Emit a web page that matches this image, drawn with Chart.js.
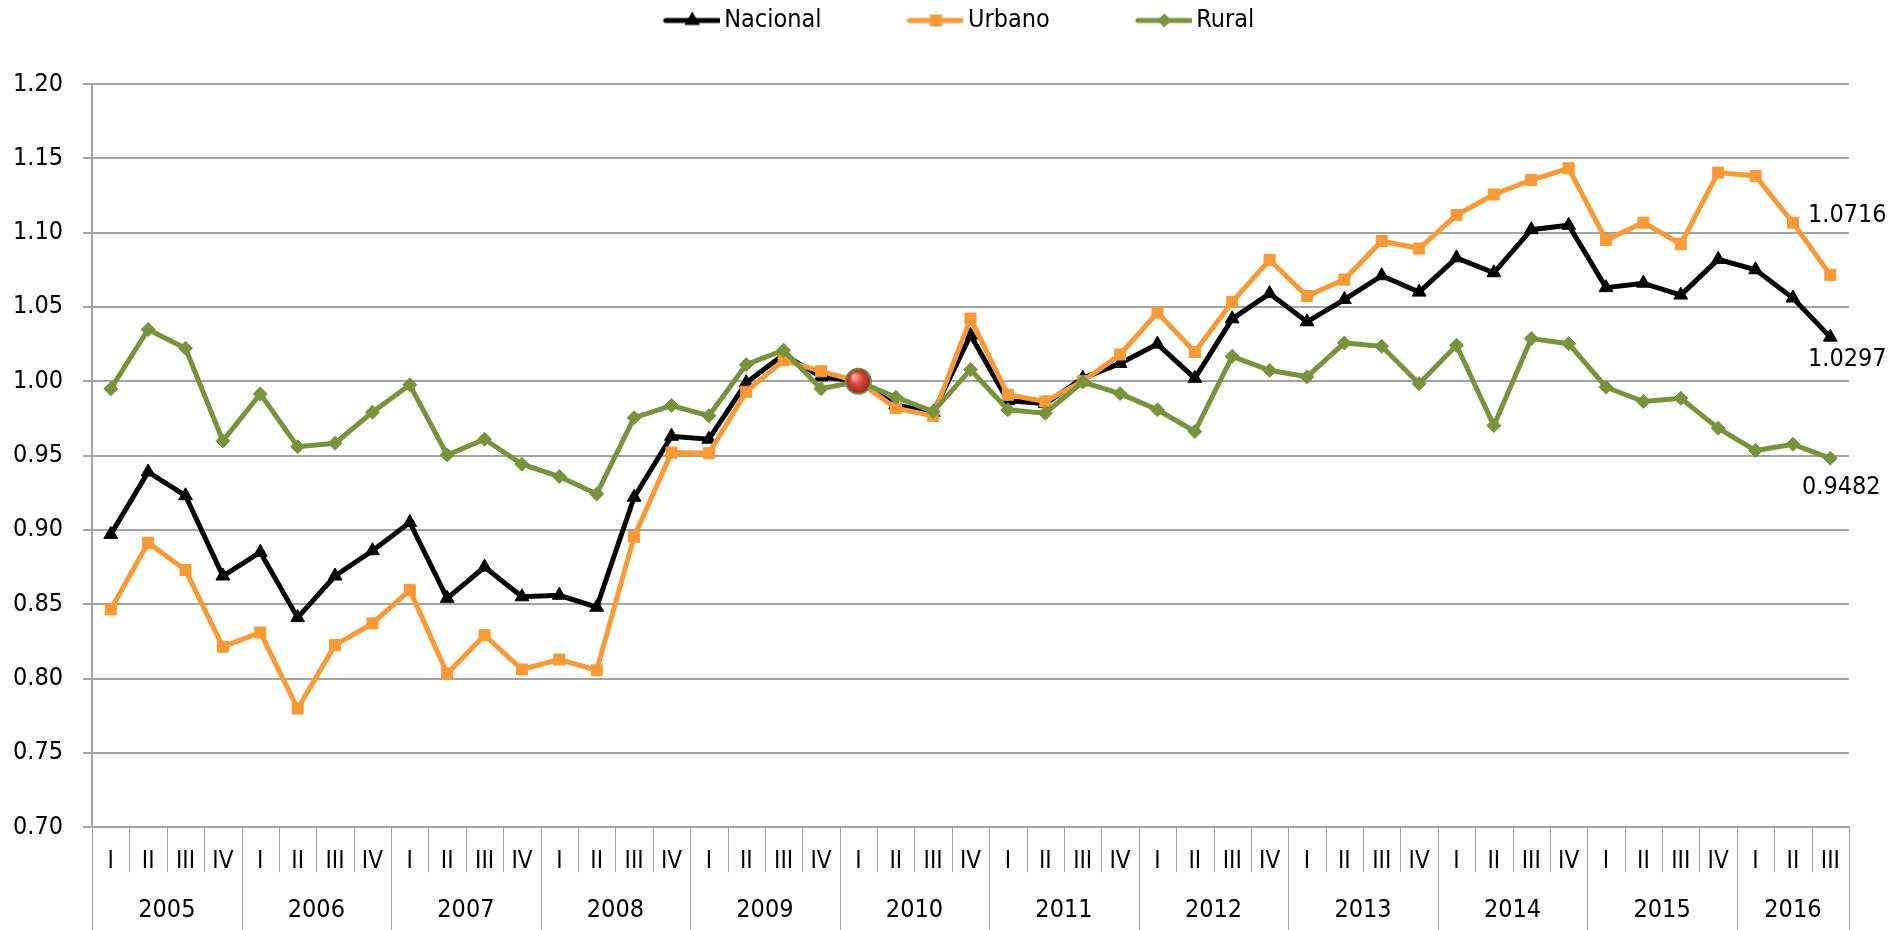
<!DOCTYPE html>
<html lang="es">
<head>
<meta charset="utf-8">
<title>Índice trimestral Nacional, Urbano y Rural</title>
<script src="https://cdn.jsdelivr.net/npm/chart.js@4.4.1/dist/chart.umd.min.js"></script>
<style>
  html, body { margin: 0; padding: 0; background: #fff; }
  #wrap { position: relative; width: 1895px; height: 930px; }
</style>
</head>
<body>
<div id="wrap"><canvas id="indexChart"></canvas></div>
<script>
const years = ["2005", "2006", "2007", "2008", "2009", "2010", "2011", "2012", "2013", "2014", "2015", "2016"];
const quartersPerYear = [4, 4, 4, 4, 4, 4, 4, 4, 4, 4, 4, 3];
const quarterNames = ["I", "II", "III", "IV"];

const nacional = [
  0.897, 0.939, 0.923, 0.869, 0.885, 0.841, 0.869, 0.886, 0.905, 0.854, 0.875, 0.855,
  0.856, 0.848, 0.922, 0.963, 0.961, 0.999, 1.018, 1.003, 1.000, 0.984, 0.979, 1.031,
  0.987, 0.985, 1.002, 1.012, 1.025, 1.002, 1.042, 1.059, 1.040, 1.055, 1.071, 1.060,
  1.083, 1.073, 1.102, 1.105, 1.063, 1.066, 1.058, 1.082, 1.075, 1.056, 1.0297
];
const urbano = [
  0.8465, 0.8914, 0.873, 0.8214, 0.831, 0.7798, 0.8225, 0.8371, 0.8595, 0.8034, 0.8292, 0.8061,
  0.8128, 0.8056, 0.8954, 0.952, 0.9516, 0.993, 1.0141, 1.0067, 1.000, 0.9819, 0.9767, 1.0422,
  0.9909, 0.9864, 1.000, 1.018, 1.0462, 1.0197, 1.0534, 1.0816, 1.0574, 1.0684, 1.0944, 1.0893,
  1.1118, 1.1257, 1.1354, 1.1433, 1.0951, 1.1067, 1.0924, 1.1404, 1.1381, 1.1067, 1.0716
];
const rural = [
  0.9949, 1.0349, 1.0222, 0.9599, 0.9915, 0.956, 0.9583, 0.9792, 0.9976, 0.9504, 0.961, 0.9442,
  0.9359, 0.9242, 0.9755, 0.9837, 0.9768, 1.0112, 1.0209, 0.995, 1.000, 0.9893, 0.9796, 1.0078,
  0.9808, 0.9785, 0.9995, 0.9917, 0.9808, 0.9662, 1.0168, 1.0074, 1.003, 1.0258, 1.0235, 0.9984,
  1.0242, 0.9702, 1.0287, 1.0253, 0.996, 0.9864, 0.9886, 0.9684, 0.9534, 0.9576, 0.9482
];

// base period of the index
const baseYear = "2010";
const baseQuarter = "I";
const baseValue = 1.00;

const yTicks = { min: 0.70, max: 1.20, step: 0.05 };

const FONT = '"DejaVu Sans Condensed", "Liberation Sans Narrow", sans-serif';
const GRID = "#a3a3a3";

// quarter labels + the year each quarter belongs to
const labels = [];
const labelYears = [];
years.forEach((yr, k) => {
  for (let q = 0; q < quartersPerYear[k]; q++) {
    labels.push(quarterNames[q]);
    labelYears.push(yr);
  }
});
const baseIdx = labels.findIndex((q, i) => q === baseQuarter && labelYears[i] === baseYear);
const baseSeries = labels.map((_, i) => (i === baseIdx ? baseValue : null));

// legend icons: line with the series marker in the middle
function legendIcon(color, marker) {
  const c = document.createElement("canvas");
  c.width = 140;
  c.height = 24;
  const g = c.getContext("2d");
  const x0 = 86, x1 = 139, cy = 12, mx = (x0 + x1) / 2;
  g.strokeStyle = color;
  g.fillStyle = color;
  g.lineWidth = 5;
  g.lineCap = "round";
  g.beginPath();
  g.moveTo(x0, cy);
  g.lineTo(x1, cy);
  g.stroke();
  g.beginPath();
  if (marker === "triangle") {
    g.moveTo(mx, cy - 9);
    g.lineTo(mx + 7.8, cy + 4.5);
    g.lineTo(mx - 7.8, cy + 4.5);
  } else if (marker === "rect") {
    g.rect(mx - 6, cy - 6, 12, 12);
  } else {
    g.moveTo(mx, cy - 7);
    g.lineTo(mx + 7, cy);
    g.lineTo(mx, cy + 7);
    g.lineTo(mx - 7, cy);
  }
  g.closePath();
  g.fill();
  return c;
}

const series = [
  { label: "Nacional", data: nacional, color: "#000000", marker: "triangle", radius: 8, order: 3 },
  { label: "Urbano", data: urbano, color: "#F99A36", marker: "rect", radius: 7.8, order: 2 },
  { label: "Rural", data: rural, color: "#77933C", marker: "rectRot", radius: 7, order: 1 }
];
const icons = series.map(s => legendIcon(s.color, s.marker));

// extra room under the legend
const legendGap = {
  id: "legendGap",
  beforeInit(chart) {
    const fit = chart.legend.fit;
    chart.legend.fit = function () {
      fit.bind(chart.legend)();
      this.height += 41;
    };
  }
};

// quarter separators plus the year row, with long separators between years
const yearAxis = {
  id: "yearAxis",
  afterDraw(chart) {
    const { ctx, chartArea, scales: { x } } = chart;
    const half = (x.getPixelForValue(1) - x.getPixelForValue(0)) / 2;
    const sep = (px, bottom) => {
      const p = Math.round(px) + 0.5;
      ctx.beginPath();
      ctx.moveTo(p, chartArea.bottom);
      ctx.lineTo(p, bottom);
      ctx.stroke();
    };
    ctx.save();
    ctx.strokeStyle = GRID;
    ctx.lineWidth = 1;
    ctx.fillStyle = "#000";
    ctx.font = "25px " + FONT;
    ctx.textAlign = "center";
    ctx.textBaseline = "middle";
    labels.forEach((_, i) => sep(x.getPixelForValue(i) + half, chartArea.bottom + 45));
    let start = 0;
    sep(x.getPixelForValue(0) - half, chart.height);
    years.forEach((yr, k) => {
      const end = start + quartersPerYear[k] - 1;
      const left = x.getPixelForValue(start) - half;
      const right = x.getPixelForValue(end) + half;
      sep(right, chart.height);
      ctx.fillText(yr, (left + right) / 2, chart.height - 20);
      start = end + 1;
    });
    ctx.restore();
  }
};

// value labels on the last quarter of each series
const endLabels = {
  id: "endLabels",
  afterDatasetsDraw(chart) {
    const ctx = chart.ctx;
    const offsets = [[17, 22], [17, -59], [11, 29]];
    ctx.save();
    ctx.fillStyle = "#000";
    ctx.font = "25px " + FONT;
    ctx.textAlign = "center";
    ctx.textBaseline = "middle";
    series.forEach((s, di) => {
      const last = s.data.length - 1;
      const pt = chart.getDatasetMeta(di).data[last];
      ctx.fillText(s.data[last].toFixed(4), pt.x + offsets[di][0], pt.y + offsets[di][1]);
    });
    ctx.restore();
  }
};

function baseFill(c) {
  if (c.type !== "data" || c.raw == null) return "#d13a34";
  const px = c.chart.scales.x.getPixelForValue(c.dataIndex);
  const py = c.chart.scales.y.getPixelForValue(c.raw);
  const g = c.chart.ctx.createRadialGradient(px - 4, py - 5, 1, px, py, 13);
  g.addColorStop(0, "#ffaa9c");
  g.addColorStop(0.45, "#d9443c");
  g.addColorStop(1, "#962420");
  return g;
}

const datasets = series.map(s => ({
  label: s.label,
  data: s.data,
  borderColor: s.color,
  backgroundColor: s.color,
  borderWidth: 5,
  tension: 0,
  pointStyle: s.marker,
  pointRadius: s.radius,
  pointBackgroundColor: s.color,
  pointBorderColor: s.color,
  pointBorderWidth: 1,
  order: s.order
}));
datasets.push({
  label: "Base",
  data: baseSeries,
  showLine: false,
  pointStyle: "circle",
  pointRadius: 12.5,
  pointBackgroundColor: baseFill,
  pointBorderColor: "#6f9040",
  pointBorderWidth: 2,
  order: 0
});

new Chart(document.getElementById("indexChart"), {
  type: "line",
  data: { labels, datasets },
  options: {
    responsive: true,
    maintainAspectRatio: false,
    animation: false,
    layout: { padding: { left: -7, right: 46, top: -2, bottom: 34 } },
    plugins: {
      tooltip: { enabled: false },
      legend: {
        position: "top",
        labels: {
          usePointStyle: true,
          pointStyleWidth: 124,
          padding: 10,
          color: "#000",
          font: { family: FONT, size: 25 },
          filter: item => item.datasetIndex < series.length,
          sort: (a, b) => a.datasetIndex - b.datasetIndex,
          generateLabels(chart) {
            const items = Chart.defaults.plugins.legend.labels.generateLabels(chart);
            items.forEach(it => {
              if (icons[it.datasetIndex]) it.pointStyle = icons[it.datasetIndex];
            });
            return items;
          }
        }
      }
    },
    scales: {
      x: {
        offset: true,
        grid: { offset: true, drawOnChartArea: false, drawTicks: false },
        border: { color: GRID, width: 2 },
        ticks: {
          autoSkip: false,
          maxRotation: 0,
          padding: 20,
          color: "#000",
          font: { family: FONT, size: 24 }
        }
      },
      y: {
        min: yTicks.min,
        max: yTicks.max,
        grid: { color: GRID, lineWidth: 2, tickLength: 9 },
        border: { color: GRID, width: 2 },
        ticks: {
          stepSize: yTicks.step,
          padding: 20,
          color: "#000",
          font: { family: FONT, size: 25 },
          callback: v => Number(v).toFixed(2)
        }
      }
    }
  },
  plugins: [legendGap, yearAxis, endLabels]
});
</script>
</body>
</html>
